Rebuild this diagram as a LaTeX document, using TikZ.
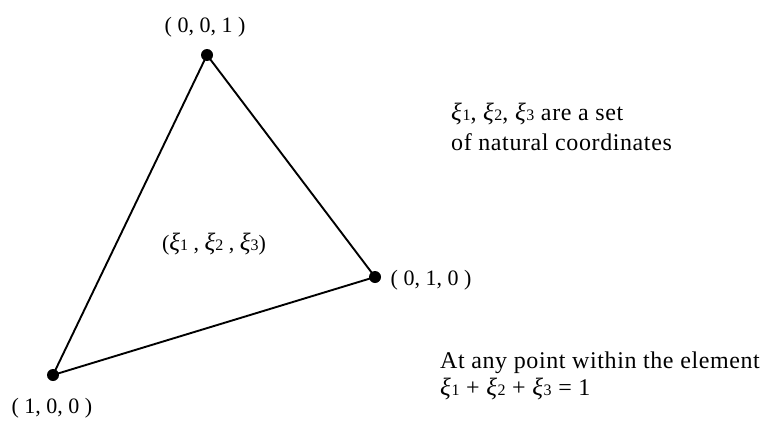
\documentclass[tikz,border=0pt]{standalone}
\usepackage{fontspec}
\setmainfont{Liberation Serif}
\newfontfamily\sidefont[LetterSpace=2.5]{Liberation Serif}
\newcommand\xs[1]{{\fontsize{25}{25}\selectfont\textit{ξ}}{\fontsize{16}{16}\selectfont #1}}
\begin{document}
\begin{tikzpicture}[x=1pt,y=-1pt,
  vtx/.style={circle,fill=black,inner sep=0pt,minimum size=12pt},
  lbl/.style={inner sep=0pt,font=\fontsize{22}{26}\selectfont},
  side/.style={inner sep=0pt,anchor=base west,font=\sidefont\fontsize{24}{26}\selectfont}]
\useasboundingbox (0,0) rectangle (760,423);
\node[vtx] (c) at (207,55) {};
\node[vtx] (b) at (375,277) {};
\node[vtx] (a) at (53,375) {};
\draw[line width=1.9pt] (a.center) -- (c.center) -- (b.center) -- cycle;
\node[lbl] (lc) at (205,27) {( 0, 0, 1 )};
\node[lbl] (lb) at (431,280) {( 0, 1, 0 )};
\node[lbl] (la) at (52,408) {( 1, 0, 0 )};
\node[lbl] (lm) at (214,244) {(\xs{1} , \xs{2} , \xs{3})};
\node[side] (t1) at (451,120) {\xs{1}, \xs{2}, \xs{3} are a set};
\node[side] (t2) at (451,150) {of natural coordinates};
\node[side] (t3) at (440,368) {At any point within the element};
\node[side] (t4) at (440,395) {\xs{1} + \xs{2} + \xs{3} = 1};
\end{tikzpicture}
\end{document}
